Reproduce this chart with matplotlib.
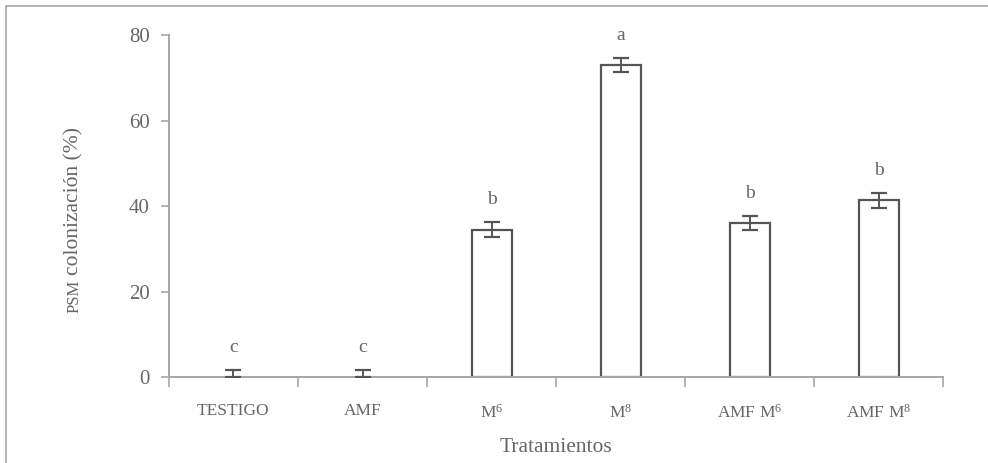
import numpy as np
import matplotlib.pyplot as plt
from matplotlib.patches import Rectangle

plt.rcParams['font.family'] = ['Liberation Serif', 'DejaVu Serif']
plt.rcParams['mathtext.fontset'] = 'custom'
plt.rcParams['mathtext.rm'] = 'Liberation Serif'
plt.rcParams['mathtext.it'] = 'Liberation Serif:italic'

# datos
tratamientos = ['TESTIGO', 'AMF', r'$\mathregular{M^{6}}$', r'$\mathregular{M^{8}}$',
                r'AMF $\mathregular{M^{6}}$', r'AMF $\mathregular{M^{8}}$']
colonizacion = [0.0, 0.0, 34.5, 73.0, 36.0, 41.3]
error = [1.6, 1.6, 1.8, 1.6, 1.7, 1.8]
letras = ['c', 'c', 'b', 'a', 'b', 'b']

gris_texto = '#666666'
gris_eje = '#a6a6a6'
gris_barra = '#555555'

fig = plt.figure(figsize=(9.88, 4.63), dpi=100)
ax = fig.add_axes([0.171, 0.1857, 0.7837, 0.7387])

x = np.arange(len(tratamientos))
bordes = [1.6 if m > 0 else 0 for m in colonizacion]
ax.bar(x, colonizacion, width=0.31, color='white', edgecolor=gris_barra, linewidth=bordes, zorder=2)
err_inf = [min(m, e) for m, e in zip(colonizacion, error)]
ax.errorbar(x, colonizacion, yerr=[err_inf, error], fmt='none', ecolor=gris_barra,
            elinewidth=1.4, capsize=5.5, capthick=1.6, zorder=3)

for xi, m, e, l in zip(x, colonizacion, error, letras):
    ax.annotate(l, (xi, m + e), xytext=(0, 10), textcoords='offset points',
                ha='center', va='bottom', fontsize=14, color=gris_texto)

ax.set_xlim(-0.5, len(tratamientos) - 0.5)
ax.set_ylim(0, 80)
ax.set_yticks([0, 20, 40, 60, 80])
ax.set_xticks(np.arange(-0.5, len(tratamientos), 1))
ax.set_xticklabels([])
ax.set_xticks(x, minor=True)
ax.set_xticklabels(tratamientos, minor=True, fontsize=12.5, color=gris_texto)
ax.tick_params(axis='x', which='major', length=7, color=gris_eje, width=1.2)
ax.tick_params(axis='x', which='minor', length=0, pad=19)
ax.tick_params(axis='y', length=6, color=gris_eje, width=1.2, labelsize=15,
               labelcolor=gris_texto, pad=8)

for s in ['top', 'right']:
    ax.spines[s].set_visible(False)
for s in ['left', 'bottom']:
    ax.spines[s].set_color(gris_eje)
    ax.spines[s].set_linewidth(1.4)

# etiqueta eje y: PSM en versalitas
fig.text(0.079, 0.405, 'colonización (%)', rotation=90, rotation_mode='anchor',
         ha='left', va='baseline', fontsize=15.5, color=gris_texto)
fig.text(0.079, 0.395, 'PSM', rotation=90, rotation_mode='anchor',
         ha='right', va='baseline', fontsize=12, color=gris_texto)

fig.text(0.563, 0.024, 'Tratamientos', ha='center', va='baseline', fontsize=15.5, color=gris_texto)

# marco
fig.patches.append(Rectangle((0.006, -0.1), 1.1, 0.1 + 0.987, transform=fig.transFigure,
                             fill=False, edgecolor=gris_eje, linewidth=1.2))

fig.savefig('out.png', dpi=100)
